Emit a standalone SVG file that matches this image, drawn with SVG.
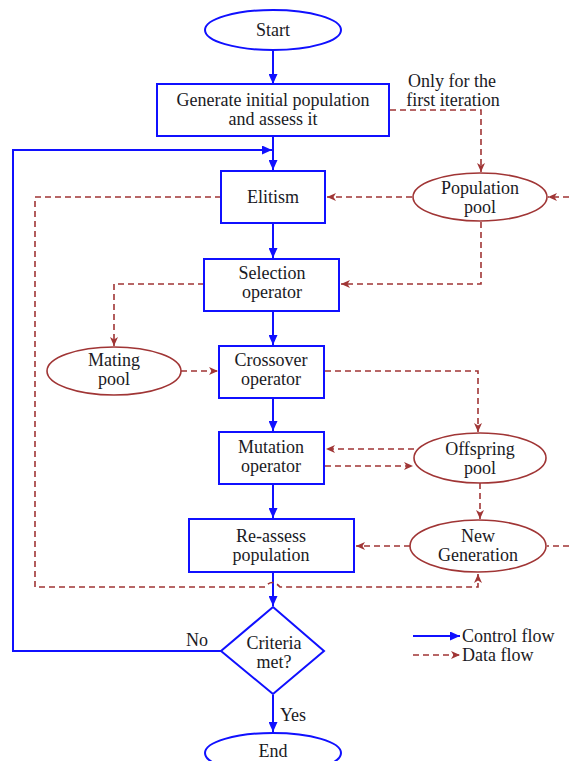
<svg xmlns="http://www.w3.org/2000/svg" width="569" height="761" viewBox="0 0 569 761">
<style>
text{font-family:"Liberation Serif","Times New Roman",serif;font-size:18px;fill:#1a1a24;text-anchor:middle}
.box{fill:#fff;stroke:#1010ff;stroke-width:2}
.pool{fill:#fff;stroke:#a03535;stroke-width:1.6}
.ctl{fill:none;stroke:#1010ff;stroke-width:2}
.dat{fill:none;stroke:#a03535;stroke-width:1.6;stroke-dasharray:6 4}
</style>
<defs>
<marker id="ab" markerUnits="userSpaceOnUse" markerWidth="11" markerHeight="9" refX="10" refY="4.5" orient="auto"><path d="M0,0 L10,4.5 L0,9 z" fill="#1010ff"/></marker>
<marker id="ad" markerUnits="userSpaceOnUse" markerWidth="10" markerHeight="8" refX="9" refY="4" orient="auto"><path d="M0,0 L9,4 L0,8 L2.5,4 z" fill="#a03535"/></marker>
</defs>
<g id="connectors">
<path class="ctl" d="M273,50 V84" marker-end="url(#ab)"/>
<path class="ctl" d="M273,136 V170" marker-end="url(#ab)"/>
<path class="ctl" d="M221,651 H13 V150 H272" marker-end="url(#ab)"/>
<path class="ctl" d="M273,223 V258" marker-end="url(#ab)"/>
<path class="ctl" d="M273,311 V345" marker-end="url(#ab)"/>
<path class="ctl" d="M273,398 V431" marker-end="url(#ab)"/>
<path class="ctl" d="M273,484 V518" marker-end="url(#ab)"/>
<path class="ctl" d="M273,573 V606" marker-end="url(#ab)"/>
<path class="ctl" d="M273,695 V732" marker-end="url(#ab)"/>
<path class="dat" d="M390,110 H481 V172" marker-end="url(#ad)"/>
<path class="dat" d="M412,197 H327" marker-end="url(#ad)"/>
<path class="dat" d="M569,197 H548" marker-end="url(#ad)"/>
<path class="dat" d="M221,197 H35 V587 H265 Q272,578 280,587 H478 V574" marker-end="url(#ad)"/>
<path class="dat" d="M481,222 V284 H341" marker-end="url(#ad)"/>
<path class="dat" d="M204,284 H114 V346" marker-end="url(#ad)"/>
<path class="dat" d="M181,371 H218" marker-end="url(#ad)"/>
<path class="dat" d="M325,371 H478 V432" marker-end="url(#ad)"/>
<path class="dat" d="M414,449 H326" marker-end="url(#ad)"/>
<path class="dat" d="M325,466 H413" marker-end="url(#ad)"/>
<path class="dat" d="M480,483 V519" marker-end="url(#ad)"/>
<path class="dat" d="M410,546 H356" marker-end="url(#ad)"/>
<path class="dat" d="M569,546 H547"/>
</g>
<g id="start"><ellipse cx="273" cy="30" rx="68" ry="20" class="box"/><text x="273" y="36">Start</text></g>
<g id="generate"><rect x="157" y="84" width="232" height="52" class="box"/><text x="273" y="106">Generate initial population</text><text x="273" y="125">and assess it</text></g>
<g id="note"><text x="452" y="87">Only for the</text><text x="453" y="106">first iteration</text></g>
<g id="elitism"><rect x="221" y="171" width="104" height="52" class="box"/><text x="273" y="203">Elitism</text></g>
<g id="population-pool"><ellipse cx="480" cy="197" rx="67" ry="24" class="pool"/><text x="480" y="194">Population</text><text x="480" y="213">pool</text></g>
<g id="selection"><rect x="204" y="259" width="135" height="52" class="box"/><text x="272" y="279">Selection</text><text x="272" y="298">operator</text></g>
<g id="mating-pool"><ellipse cx="114" cy="371" rx="67" ry="24" class="pool"/><text x="114" y="366">Mating</text><text x="114" y="385">pool</text></g>
<g id="crossover"><rect x="219" y="346" width="105" height="52" class="box"/><text x="271" y="366">Crossover</text><text x="271" y="385">operator</text></g>
<g id="mutation"><rect x="219" y="432" width="105" height="52" class="box"/><text x="271" y="453">Mutation</text><text x="271" y="472">operator</text></g>
<g id="offspring-pool"><ellipse cx="480" cy="458" rx="66" ry="25" class="pool"/><text x="480" y="455">Offspring</text><text x="480" y="474">pool</text></g>
<g id="reassess"><rect x="189" y="519" width="165" height="53" class="box"/><text x="271" y="542">Re-assess</text><text x="271" y="561">population</text></g>
<g id="new-generation"><ellipse cx="478" cy="546" rx="68" ry="26" class="pool"/><text x="478" y="542">New</text><text x="478" y="561">Generation</text></g>
<g id="criteria"><path d="M273,607 L324,651 L273,694 L221,651 z" class="box"/><text x="274" y="649">Criteria</text><text x="274" y="668">met?</text></g>
<g id="labels"><text x="197" y="646">No</text><text x="293" y="721">Yes</text></g>
<g id="end"><ellipse cx="273" cy="753" rx="68" ry="20" class="box"/><text x="273" y="757">End</text></g>
<g id="legend">
<path class="ctl" d="M413,636 H460" marker-end="url(#ab)"/>
<path class="dat" d="M413,655 H460" marker-end="url(#ad)"/>
<text x="462" y="642" style="text-anchor:start">Control flow</text>
<text x="462" y="661" style="text-anchor:start">Data flow</text>
</g>
</svg>
